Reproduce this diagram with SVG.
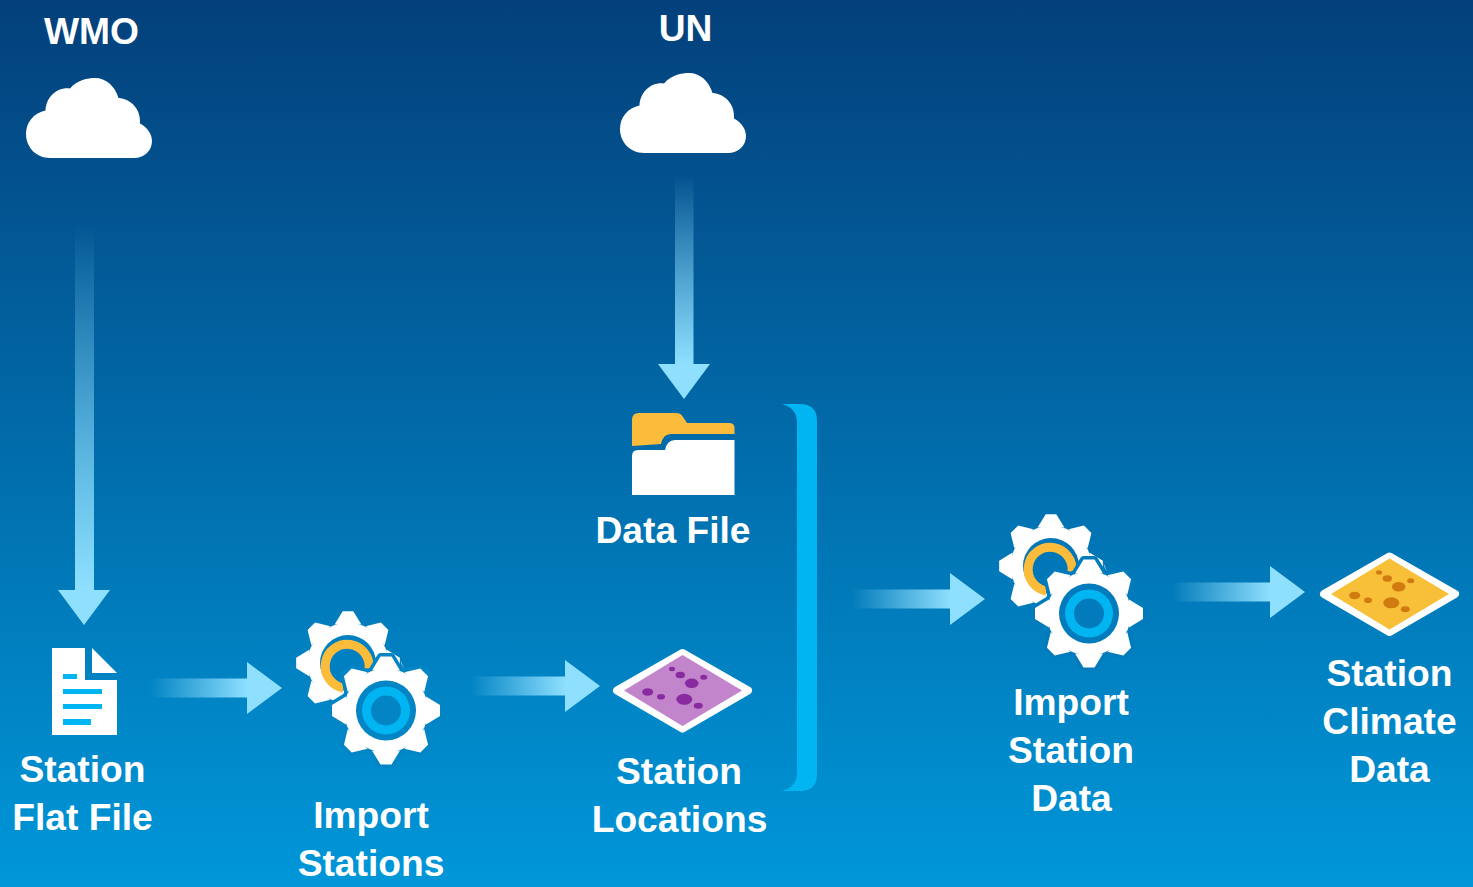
<svg xmlns="http://www.w3.org/2000/svg" xmlns:xlink="http://www.w3.org/1999/xlink" width="1473" height="887" viewBox="0 0 1473 887">
<style>
text{font-family:"Liberation Sans",Arial,sans-serif;font-weight:700;font-size:37.2px;fill:#fff;text-anchor:middle}
.w{fill:#fff}.c{fill:#00b5f1}.o{fill:#fbbc3c}
.head{fill:#8fe0ff}
</style>
<defs>
<linearGradient id="bg" x1="0" y1="0" x2="0" y2="1"><stop offset="0" stop-color="#03407b"/><stop offset="1" stop-color="#0097d9"/></linearGradient>
<linearGradient id="fh" x1="0" y1="0" x2="1" y2="0"><stop offset="0" stop-color="#8fe0ff" stop-opacity="0"/><stop offset="1" stop-color="#8fe0ff"/></linearGradient>
<linearGradient id="fv" x1="0" y1="0" x2="0" y2="1"><stop offset="0" stop-color="#8fe0ff" stop-opacity="0"/><stop offset="1" stop-color="#8fe0ff"/></linearGradient>
<path id="cloud" d="M50 158C36 158 26 147 26 134C26 122 34 113 45.500 110.500C46 98 56 87 70 88.500C77 80 88 78 95 78C106 78 115 86 118.500 98C131 99 141 109 140 123.500C147 127 152 134 152 141C152 151 144 158 134 158Z"/>
<g id="tooth"><path d="M-14 -40L-5.500 -54H5.500L14 -40Z"/></g>
<g id="gearbody">
<circle r="42"/>
<use xlink:href="#tooth"/><use xlink:href="#tooth" transform="rotate(45)"/><use xlink:href="#tooth" transform="rotate(90)"/><use xlink:href="#tooth" transform="rotate(135)"/><use xlink:href="#tooth" transform="rotate(180)"/><use xlink:href="#tooth" transform="rotate(225)"/><use xlink:href="#tooth" transform="rotate(270)"/><use xlink:href="#tooth" transform="rotate(315)"/>
</g>
<g id="gears">
<use xlink:href="#gearbody" class="w" transform="translate(348 663) scale(.96)"/>
<circle cx="348" cy="663" r="28" fill="var(--a)"/>
<path d="M343.500 688A22 22 0 1 1 369 669" fill="none" stroke="#fbbc3c" stroke-width="9"/>
<path d="M400.500 660L404 669L401.500 664Z" class="w"/>
<use xlink:href="#gearbody" fill="var(--b)" stroke="var(--b)" stroke-width="7" stroke-linejoin="round" transform="translate(386 710.500)"/>
<use xlink:href="#gearbody" class="w" transform="translate(386 710.500)"/>
<circle cx="386" cy="710.500" r="30" fill="var(--b)"/>
<circle cx="386" cy="710.500" r="24" class="c"/>
<circle cx="386" cy="710.500" r="15" fill="var(--b)"/>
</g>
<g id="diamond">
<path d="M682.500 653L748 690.500L682.500 728.500L617 690.500Z" fill="#fff" stroke="#fff" stroke-width="8" stroke-linejoin="round"/>
<path d="M682.500 655L742 690.500L682.500 726L624 690.500Z" fill="var(--f)"/>
<g fill="var(--d)">
<ellipse cx="672" cy="669" rx="3" ry="2.200"/><ellipse cx="680.300" cy="675" rx="4.700" ry="3.300"/><ellipse cx="691.700" cy="683.300" rx="6.800" ry="4.800"/><ellipse cx="703.700" cy="677.300" rx="3.500" ry="2.500"/><ellipse cx="647.700" cy="692" rx="5.500" ry="3.800"/><ellipse cx="661" cy="696.700" rx="4" ry="2.800"/><ellipse cx="684.300" cy="699.300" rx="8" ry="5.500"/><ellipse cx="698.300" cy="705.700" rx="4.500" ry="3"/>
</g>
</g>
</defs>
<rect id="background" width="1473" height="887" fill="url(#bg)"/>
<g id="connectors">
<g id="arrow-wmo"><rect x="75" y="225" width="19" height="366" fill="url(#fv)"/><path class="head" d="M58 590H110L84 625Z"/></g>
<g id="arrow-un"><rect x="675" y="175" width="18.500" height="190" fill="url(#fv)"/><path class="head" d="M658 364H710L684 399Z"/></g>
<g id="arrow-flat-import"><rect x="150" y="678.500" width="98" height="19" fill="url(#fh)"/><path class="head" d="M247 662V714L282 688Z"/></g>
<g id="arrow-import-locations"><rect x="470" y="676.500" width="96" height="19" fill="url(#fh)"/><path class="head" d="M565 660V712L600 686Z"/></g>
<g id="arrow-bracket-import"><rect x="852" y="589.500" width="99" height="19" fill="url(#fh)"/><path class="head" d="M950 573V625L985 599Z"/></g>
<g id="arrow-import-climate"><rect x="1172" y="582.500" width="99" height="19" fill="url(#fh)"/><path class="head" d="M1270 566V618L1305 592Z"/></g>
</g>
<g id="wmo"><use xlink:href="#cloud" class="w"/><text x="91.500" y="44">WMO</text></g>
<g id="un"><use xlink:href="#cloud" class="w" transform="translate(594 -5)"/><text x="685.500" y="41">UN</text></g>
<g id="data-file">
<path class="o" d="M632 420Q632 413 639 413H676Q681 413 683 417L687 423H729Q734.500 423 734.500 428V434H671Q663 434 661 444L632 446Z"/>
<path class="w" d="M632 495V456Q632 450 638 450H665Q667 440 675 440H734.500V495Z"/>
<text x="673" y="543">Data File</text>
</g>
<g id="bracket"><path class="c" d="M782 404H800Q817 404 817 421V774Q817 791 800 791H782Q797 787 797 772V423Q797 408 782 404Z"/></g>
<g id="station-flat-file">
<path class="w" d="M52 648H85V680H117V735H52Z"/><path class="w" d="M92 648L117 673H92Z"/>
<path class="c" d="M63 674H77V679H63ZM63 689H102V694H63ZM63 704H102V709H63ZM63 719H91V725H63Z"/>
<text x="82.500" y="782">Station</text><text x="82.500" y="830">Flat File</text>
</g>
<g id="import-stations"><use xlink:href="#gears" style="--a:#0180c1;--b:#0384c5"/><text x="371" y="828">Import</text><text x="371" y="876">Stations</text></g>
<g id="station-locations"><use xlink:href="#diamond" style="--f:#c284cb;--d:#8a2aa0"/><text x="679" y="784">Station</text><text x="679.500" y="832">Locations</text></g>
<g id="import-station-data"><use xlink:href="#gears" transform="translate(703 -97)" style="--a:#0177b7;--b:#027bbc"/><text x="1071" y="715">Import</text><text x="1071" y="763">Station</text><text x="1071.500" y="811">Data</text></g>
<g id="station-climate-data"><use xlink:href="#diamond" transform="translate(707 -96.500)" style="--f:#f8c038;--d:#d07a10"/><text x="1389.500" y="686">Station</text><text x="1389.500" y="734">Climate</text><text x="1389.500" y="782">Data</text></g>
</svg>
